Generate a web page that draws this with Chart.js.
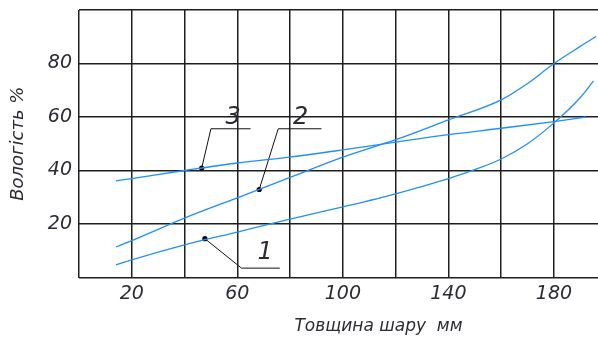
<!DOCTYPE html>
<html>
<head>
<meta charset="utf-8">
<script src="https://cdn.jsdelivr.net/npm/chart.js@4/dist/chart.umd.min.js"></script>
<style>
  html, body { margin: 0; padding: 0; background: #ffffff; }
  #chart { display: block; }
</style>
</head>
<body>
<canvas id="chart" width="598" height="341"></canvas>
<script>
// Moisture vs. layer thickness, three curves
const thickness1 = [14, 20, 40, 60, 80, 100, 120, 140, 150, 160, 170, 180, 190, 195];
const moisture1  = [4.7, 6.6, 12.2, 17.0, 21.8, 26.4, 31.3, 37.0, 40.3, 44.3, 50.0, 57.8, 67.3, 73.5];

const thickness2 = [14, 20, 40, 60, 80, 100, 120, 140, 160, 170, 180, 190, 196];
const moisture2  = [11.4, 13.8, 22.2, 29.8, 37.4, 45.0, 51.5, 58.9, 66.4, 72.5, 80.0, 86.4, 90.1];

const thickness3 = [14, 20, 40, 60, 80, 100, 120, 140, 160, 180, 192];
const moisture3  = [36.1, 37.0, 40.0, 42.8, 45.0, 47.7, 50.6, 53.4, 55.8, 58.3, 60.0];

// Callout leaders: marker on the curve, bend, end of the shelf
const leader1X = [47.7, 61.6, 76.1];
const leader1Y = [14.5, 3.5, 3.5];
const leader2X = [68.3, 75.5, 91.9];
const leader2Y = [32.9, 55.6, 55.6];
const leader3X = [46.5, 50.0, 65.0];
const leader3Y = [40.9, 55.6, 55.6];

// Callout numbers and where they sit (data units)
const calloutText = ['1', '2', '3'];
const calloutX = [70.5, 84.0, 58.4];
const calloutY = [9.2, 59.8, 59.8];

const xGridValues = [0, 20, 40, 60, 80, 100, 120, 140, 160, 180];
const yGridValues = [0, 20, 40, 60, 80, 100];
const xTickLabels = [20, 60, 100, 140, 180];
const yTickLabels = [20, 40, 60, 80];
const xTitle = 'Товщина шару  мм';
const yTitle = 'Вологість %';

const pts = (xs, ys) => xs.map((x, i) => ({ x: x, y: ys[i] }));

const FONT = "'DejaVu Sans', sans-serif";
const INK = '#2b2b33';
const BLUE = '#1f8fff';
const GRID = '#1e1e1e';

const curve = (xs, ys) => ({
  data: pts(xs, ys),
  borderColor: BLUE,
  borderWidth: 1.3,
  pointRadius: 0,
  pointHoverRadius: 0,
  fill: false,
  cubicInterpolationMode: 'monotone'
});

const leader = (xs, ys) => ({
  data: pts(xs, ys),
  borderColor: '#111111',
  borderWidth: 1,
  tension: 0,
  pointRadius: [2.6, 0, 0],
  pointHoverRadius: 0,
  pointBackgroundColor: '#000000',
  pointBorderWidth: 0,
  fill: false
});

// no extra room reserved for half-labels at the axis ends
const noEndPadding = scale => {
  scale.paddingTop = 0;
  scale.paddingBottom = 0;
  scale.paddingLeft = 0;
  scale.paddingRight = 0;
};

const annotate = {
  id: 'annotate',
  afterDraw(chart) {
    const { ctx, scales: { x, y } } = chart;
    ctx.save();
    ctx.fillStyle = INK;
    ctx.textAlign = 'center';
    ctx.textBaseline = 'middle';
    ctx.font = "italic 24px " + FONT;
    calloutText.forEach((t, i) => {
      ctx.fillText(t, x.getPixelForValue(calloutX[i]), y.getPixelForValue(calloutY[i]));
    });
    ctx.font = "italic 17px " + FONT;
    ctx.fillText(xTitle, x.getPixelForValue(113.5), 327);
    ctx.restore();
  }
};

new Chart(document.getElementById('chart'), {
  type: 'line',
  data: {
    datasets: [
      curve(thickness1, moisture1),
      curve(thickness2, moisture2),
      curve(thickness3, moisture3),
      leader(leader1X, leader1Y),
      leader(leader2X, leader2Y),
      leader(leader3X, leader3Y)
    ]
  },
  options: {
    responsive: false,
    animation: false,
    events: [],
    layout: { autoPadding: false, padding: { top: 10, right: 0, left: 0, bottom: 0 } },
    plugins: { legend: { display: false }, tooltip: { enabled: false } },
    scales: {
      x: {
        type: 'linear',
        min: 0,
        max: 196.7,
        afterBuildTicks(scale) { scale.ticks = xGridValues.map(v => ({ value: v })); },
        afterFit(scale) { scale.height = 63.5; noEndPadding(scale); },
        border: { display: false },
        grid: { color: GRID, lineWidth: 1.5, drawTicks: false },
        ticks: {
          autoSkip: false,
          maxRotation: 0,
          padding: 5,
          color: INK,
          font: { family: FONT, size: 19, style: 'italic' },
          callback: v => xTickLabels.includes(v) ? String(v) : ''
        }
      },
      y: {
        min: 0,
        max: 100,
        afterBuildTicks(scale) { scale.ticks = yGridValues.map(v => ({ value: v })); },
        afterFit(scale) { scale.width = 79; noEndPadding(scale); },
        border: { display: false },
        grid: { color: GRID, lineWidth: 1.5, drawTicks: false },
        ticks: {
          padding: 7,
          color: INK,
          font: { family: FONT, size: 19, style: 'italic' },
          callback: v => yTickLabels.includes(v) ? String(v) : ''
        },
        title: {
          display: true,
          text: yTitle,
          color: INK,
          padding: { top: 8, bottom: 0 },
          font: { family: FONT, size: 18, style: 'italic' }
        }
      }
    }
  },
  plugins: [annotate]
});
</script>
</body>
</html>
